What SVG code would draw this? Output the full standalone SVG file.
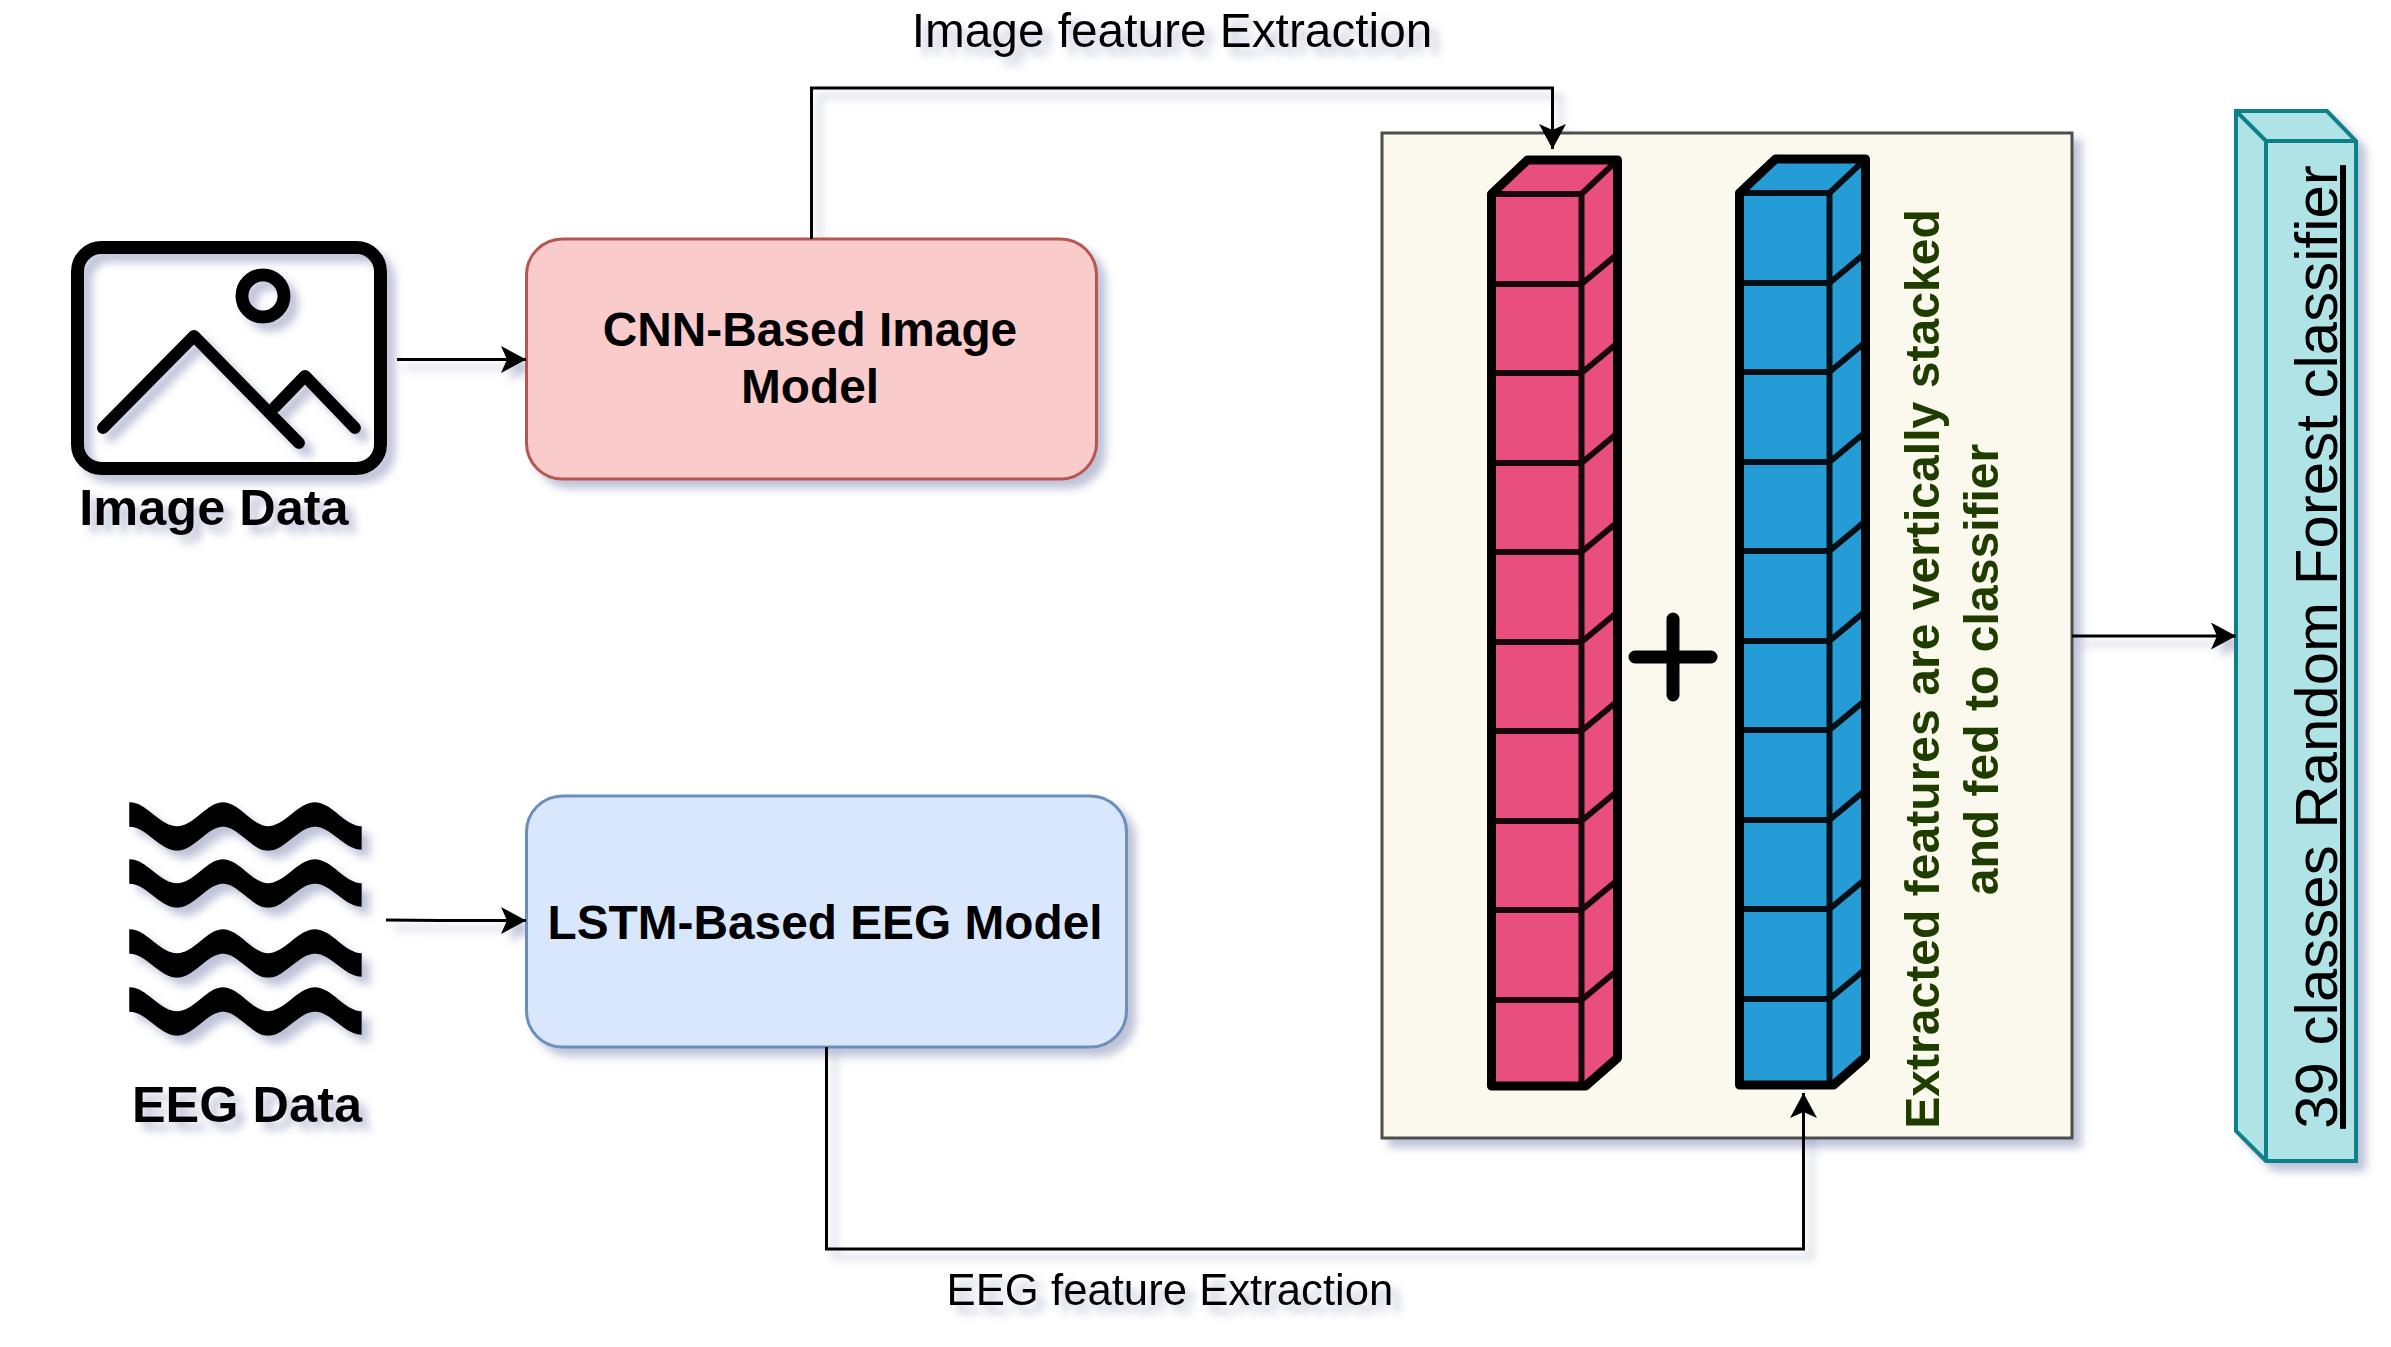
<svg xmlns="http://www.w3.org/2000/svg" xmlns:xlink="http://www.w3.org/1999/xlink" width="2391" height="1347" viewBox="0 0 2391 1347">
<style>
text{font-family:"Liberation Sans",Arial,sans-serif;fill:#000}
.b{font-weight:bold}
.c{text-anchor:middle}
.conn{fill:none;stroke:#000;stroke-width:3}
.icon{fill:none;stroke:#000;stroke-width:13;stroke-linecap:round;stroke-linejoin:round}
.out{fill:none;stroke:#000;stroke-width:9;stroke-linejoin:round}
.inn{fill:none;stroke:#000;stroke-width:6;opacity:.9}
.cub{fill:#b0e3e6;stroke:#0e8088;stroke-width:4;stroke-linejoin:miter}
</style>
<defs>
<filter id="sh" filterUnits="userSpaceOnUse" x="0" y="0" width="2391" height="1347">
<feDropShadow dx="8" dy="8" stdDeviation="4" flood-color="#6f78a6" flood-opacity=".45"/>
</filter>
<filter id="shOnly" filterUnits="userSpaceOnUse" x="0" y="0" width="2391" height="1347">
<feGaussianBlur in="SourceAlpha" stdDeviation="4"/>
<feOffset dx="8" dy="8" result="o"/>
<feFlood flood-color="#6f78a6" flood-opacity=".45"/>
<feComposite in2="o" operator="in"/>
</filter>
<marker id="arr" markerUnits="userSpaceOnUse" markerWidth="26" markerHeight="28" refX="25" refY="13.5" orient="auto">
<path d="M0 0L25 13.5L0 27L6 13.5Z" fill="#000"/>
</marker>
<path id="wave" d="M130 803C146 803 160 827 177 827C194 827 207 803 223 803C239 803 252 827 268 827C285 827 298 803 315 803C331 803 345 827 361 827V849C345 849 331 826 315 826C298 826 285 850 268 850C252 850 239 826 223 826C207 826 194 850 177 850C160 850 146 826 130 826Z" fill="#000" stroke="#000" stroke-width="1.500"/>
<g id="stackLines">
<path d="M0 0H90M0 90H90M0 179H90M0 269H90M0 358H90M0 448H90M0 537H90M0 627H90M0 716H90M0 806H90M90 0V892M90 0L126-34M90 90L126 60M90 179L126 149M90 269L126 239M90 358L126 328M90 448L126 418M90 537L126 507M90 627L126 597M90 716L126 686M90 806L126 776" class="inn"/>
<path d="M0 892V0L36-34H126V864L94 892Z" class="out"/>
</g>
</defs>
<rect width="2391" height="1347" fill="#fff"/>
<use href="#connectors" filter="url(#shOnly)"/>
<g id="node-image-icon" filter="url(#sh)">
<rect x="77.500" y="247.500" width="303" height="221" rx="24" class="icon"/>
<circle cx="263" cy="296" r="21" class="icon"/>
<path d="M103 428L194 336L299 443M275 407L305 376L355 428" class="icon" style="stroke-width:12"/>
</g>
<g id="node-image-label" filter="url(#sh)"><text class="b c" x="214" y="525" font-size="50.500">Image Data</text></g>
<g id="node-eeg-icon" filter="url(#sh)">
<use href="#wave"/>
<use href="#wave" y="57"/>
<use href="#wave" y="127"/>
<use href="#wave" y="185"/>
</g>
<g id="node-eeg-label" filter="url(#sh)"><text class="b c" x="247" y="1122" font-size="50.500">EEG Data</text></g>
<g id="node-cnn">
<rect x="526.500" y="239" width="570" height="240" rx="36" fill="#facbcb" stroke="#b85450" stroke-width="3" filter="url(#sh)"/>
<text class="b c" x="810" y="346" font-size="47.800">CNN-Based Image</text>
<text class="b c" x="810" y="403" font-size="47.800">Model</text>
</g>
<g id="node-lstm">
<rect x="526.500" y="796" width="600" height="251" rx="36" fill="#d9e7fd" stroke="#6c8ebf" stroke-width="3" filter="url(#sh)"/>
<text class="b c" x="825" y="939" font-size="47.800">LSTM-Based EEG Model</text>
</g>
<g id="node-panel">
<rect x="1382" y="133" width="690" height="1005" fill="#fbf9ee" stroke="#4d4d4d" stroke-width="3" filter="url(#sh)"/>
<g id="stack-pink" transform="translate(1491.500 194)">
<path d="M0 892V0L36-34H126V864L94 892Z" fill="#e84e7e"/>
<use href="#stackLines"/>
</g>
<g id="stack-blue" transform="translate(1739.500 193)">
<path d="M0 892V0L36-34H126V864L94 892Z" fill="#269cd6"/>
<use href="#stackLines"/>
</g>
<path d="M1635 657H1711M1673 619V695" fill="none" stroke="#000" stroke-width="13" stroke-linecap="round"/>
<g transform="translate(1923 669) rotate(-90)"><text class="b c" x="0" y="16" font-size="48.100" style="fill:#203d00">Extracted features are vertically stacked</text></g>
<g transform="translate(1982 669.500) rotate(-90)"><text class="b c" x="0" y="16" font-size="48.100" style="fill:#203d00">and fed to classifier</text></g>
</g>
<g id="node-classifier" >
<g filter="url(#sh)"><path d="M2266 1161L2236 1131V111H2327L2356 141V1161Z" class="cub"/></g>
<path d="M2236 111L2266 141H2356M2266 141V1161" class="cub" style="fill:none"/>
<g transform="translate(2337 647) rotate(-90)"><text class="c" x="0" y="0" font-size="60" text-decoration="underline">39 classes Random Forest classifier</text></g>
</g>
<g id="labels" filter="url(#sh)">
<text class="c" x="1172" y="47" font-size="47.800">Image feature Extraction</text>
<text class="c" x="1170" y="1305" font-size="43.700">EEG feature Extraction</text>
</g>
<g id="connectors">
<path class="conn" marker-end="url(#arr)" d="M397 359.500H526"/>
<path class="conn" marker-end="url(#arr)" d="M386 920L440 920.500H526"/>
<path class="conn" marker-end="url(#arr)" d="M811.500 239V88H1552.500V149"/>
<path class="conn" marker-end="url(#arr)" d="M826.500 1047V1249H1803.500V1093"/>
<path class="conn" marker-end="url(#arr)" d="M2072 636H2236"/>
</g>
</svg>
